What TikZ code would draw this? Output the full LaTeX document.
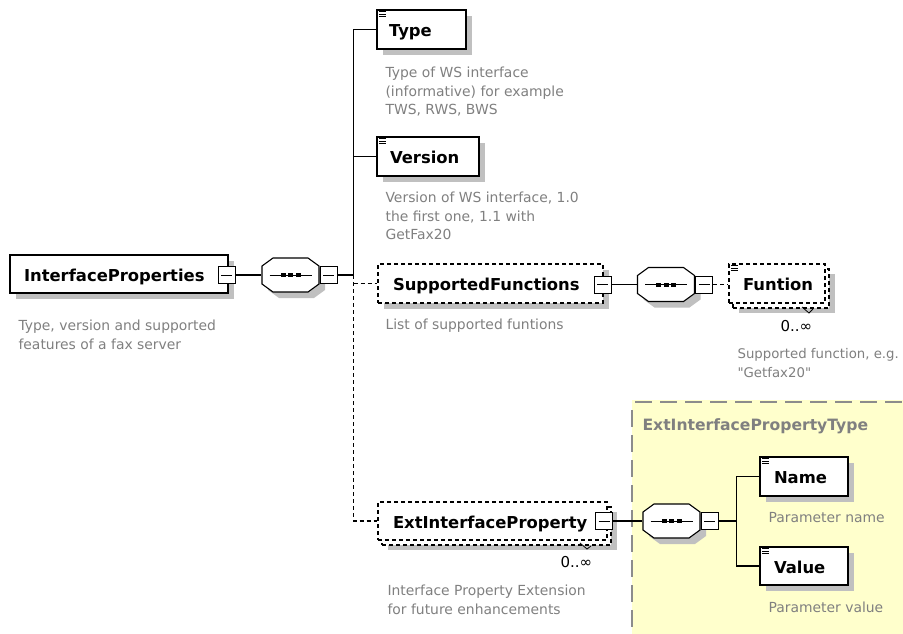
\documentclass[tikz,border=0pt]{standalone}
\usepackage{fontspec}
\setmainfont{DejaVu Sans}
\newfontfamily\qfont{DejaVu Sans}
\usetikzlibrary{shadows,calc}
\definecolor{shadowgray}{RGB}{192,192,192}
\definecolor{descgray}{RGB}{128,128,128}
\definecolor{ybg}{RGB}{255,255,204}
\definecolor{yborder}{RGB}{140,140,140}
\newcommand\lblfont{\fontsize{16.4}{20}\selectfont\bfseries}
\newcommand\descfont{\fontsize{13.9}{18.5}\selectfont}
\newcommand\elicon[1]{\foreach \d in {2,4.5,7} \draw[line width=0.9pt] ($(#1.north west)+(3,\d)$) -- ++(7,0);}
\newcommand\octapath[1]{($(#1.center)+(-28.5,-9)$) -- ($(#1.center)+(-17.5,-17)$) -- ($(#1.center)+(17.5,-17)$) -- ($(#1.center)+(28.5,-9)$) -- ($(#1.center)+(28.5,9)$) -- ($(#1.center)+(17.5,17)$) -- ($(#1.center)+(-17.5,17)$) -- ($(#1.center)+(-28.5,9)$) -- cycle}
\newcommand\octa[1]{\fill[shadowgray, transform canvas={xshift=6pt, yshift=-6pt}] \octapath{#1};
  \draw[fill=white] \octapath{#1};
  \draw[line width=1pt] ($(#1.center)+(-21,0)$) -- ($(#1.center)+(21,0)$);
  \foreach \d in {-7.5,0,7.5} \fill ($(#1.center)+({\d-2.5},-2)$) rectangle ++(5,4);}
\begin{document}
\begin{tikzpicture}[x=1pt,y=-1pt,line width=1.1pt,
  base/.style={draw, fill=white, inner xsep=0pt, inner ysep=0pt, align=left,
    text height=16pt, text depth=2pt, font=\lblfont},
  shad/.style={drop shadow={shadow xshift=6pt, shadow yshift=-6pt, fill=shadowgray, opacity=1}},
  elem/.style={base, shad},
  optdash/.style={dash pattern=on 4pt off 3pt},
  multi/.style={base, optdash,
    preaction={draw=none, fill=shadowgray, transform canvas={xshift=10pt, yshift=-10pt}},
    preaction={draw, fill=white, optdash, transform canvas={xshift=4pt, yshift=-5pt}}},
  optelem/.style={elem, optdash},
  seq/.style={minimum width=57pt, minimum height=34pt, inner sep=0pt},
  minus/.style={draw, fill=white, minimum size=17pt, inner sep=0pt, line width=1pt,
    path picture={\draw[line width=1pt] ([xshift=3pt]path picture bounding box.west) -- ([xshift=-3pt]path picture bounding box.east);}},
  desc/.style={anchor=north west, inner sep=0pt, align=left, font=\descfont, text=descgray},
  card/.style={anchor=base west, inner sep=0pt, font=\fontsize{15}{18}\selectfont}
]
\clip (0,0) rectangle (903,633);
\fill[white] (0,0) rectangle (903,633);

% yellow complex type area
\fill[ybg] (632,400) rectangle (910,640);
\draw[yborder, line width=1.2pt, dash pattern=on 17pt off 8pt] (635,402) -- (910,402);
\draw[yborder, line width=1.2pt, dash pattern=on 17pt off 8pt] (632,410) -- (632,640);
\node[anchor=base west, inner sep=0pt, font=\fontsize{15.6}{18}\selectfont\bfseries, text=descgray] (title) at (642,430) {ExtInterfacePropertyType};

% root
\node[elem, text width=218pt, minimum height=38pt] (ip) at (119,274) {\hspace*{14pt}InterfaceProperties};
\node[minus] (ipm) at (226.5,275) {};
\node[desc] (ipdesc) at (18,317) {\rule{0pt}{13pt}Type, version and supported\\features of a fax server};

\node[seq] (seq1) at (290.5,275) {};
\octa{seq1}
\node[minus, anchor=west] (m1) at (seq1.east) {};

% children
\node[elem, text width=89pt, minimum height=39pt] (type) at (421.5,29.5) {\hspace*{12pt}Type};
\elicon{type}
\node[desc] (typedesc) at (385,64) {\rule{0pt}{13pt}Type of WS interface\\(informative) for example\\TWS, RWS, BWS};

\node[elem, text width=102pt, minimum height=39pt] (version) at (428,156.5) {\hspace*{13pt}Version};
\elicon{version}
\node[desc] (versiondesc) at (385,189) {\rule{0pt}{13pt}Version of WS interface, 1.0\\the first one, 1.1 with\\GetFax20};

\node[optelem, text width=225pt, minimum height=39pt] (sf) at (490.5,283.5) {\hspace*{15pt}SupportedFunctions};
\node[minus] (sfm) at (602.5,284.5) {};
\node[desc] (sfdesc) at (385,316) {\rule{0pt}{13pt}List of supported funtions};

\node[seq] (seq2) at (666,284.5) {};
\octa{seq2}
\node[minus, anchor=west] (m2) at (seq2.east) {};

\node[multi, text width=96pt, minimum height=39pt] (fun) at (777,283.5) {\hspace*{14pt}Funtion};
\elicon{fun}
\draw[line width=0.8pt] (802,307) -- (809,313) -- (813,309);
\node[card] (funcard) at (780,331) {0..∞};
\node[desc, font=\fontsize{13.3}{18.5}\selectfont] (fundesc) at (737,345) {\rule{0pt}{13pt}Supported function, e.g.\\{\qfont"}Getfax20{\qfont"}};

\node[multi, text width=229pt, minimum height=38pt] (ext) at (492.5,521) {\hspace*{15pt}ExtInterfaceProperty};
\node[minus] (extm) at (604,521) {};
\draw[line width=0.8pt] (580,543) -- (587,549) -- (591,546);
\node[card] (extcard) at (560,567) {0..∞};
\node[desc] (extdesc) at (387,582) {\rule{0pt}{13pt}Interface Property Extension\\for future enhancements};

\node[seq] (seq3) at (671.5,521) {};
\octa{seq3}
\node[minus, anchor=west] (m3) at (seq3.east) {};

\node[elem, text width=88pt, minimum height=39pt] (name) at (804,476.5) {\hspace*{14pt}Name};
\elicon{name}
\node[desc] (namedesc) at (768,509) {\rule{0pt}{13pt}Parameter name};

\node[elem, text width=88pt, minimum height=38pt] (value) at (804,566) {\hspace*{14pt}Value};
\elicon{value}
\node[desc] (valuedesc) at (768,599) {\rule{0pt}{13pt}Parameter value};

% connectors
\draw (ipm.east) -- (seq1.west);
\path (m1.east) ++(16,0) coordinate (sp1);
\draw (m1.east) -- (sp1);
\draw (sp1) |- (type.west);
\draw (sp1) |- (version.west);
\draw[optdash] (sp1) |- (ext.west);
\draw[optdash] (sp1 |- sf.west) -- (sf.west);

\draw (sfm.east) -- (seq2.west);
\draw[optdash] (m2.east) -- (m2.east -| fun.west);

\draw (extm.east) -- (seq3.west);
\path (m3.east) ++(18,0) coordinate (sp2);
\draw (m3.east) -- (sp2);
\draw (sp2) |- (name.west);
\draw (sp2) |- (value.west);
\end{tikzpicture}
\end{document}
